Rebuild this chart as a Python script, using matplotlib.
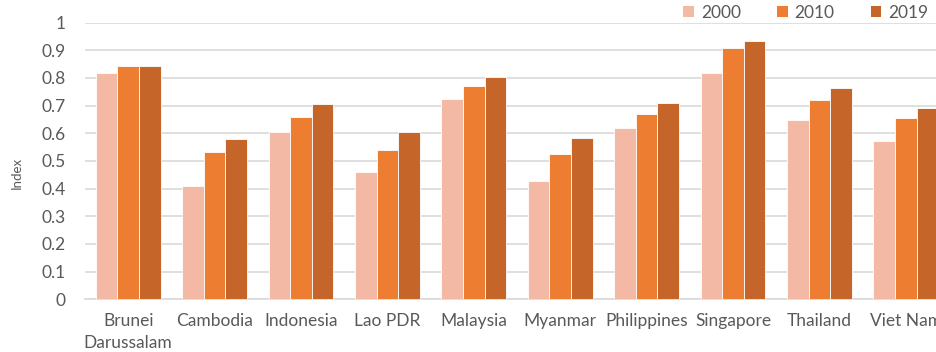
import matplotlib
matplotlib.use('Agg')
import matplotlib.pyplot as plt
import numpy as np
from matplotlib.patches import Patch

# Données : indice par pays et par année
pays = ['Brunei\nDarussalam', 'Cambodia', 'Indonesia', 'Lao PDR', 'Malaysia',
        'Myanmar', 'Philippines', 'Singapore', 'Thailand', 'Viet Nam']
annees = ['2000', '2010', '2019']
v2000 = [0.818, 0.411, 0.603, 0.461, 0.724, 0.426, 0.620, 0.818, 0.648, 0.573]
v2010 = [0.844, 0.531, 0.660, 0.541, 0.772, 0.525, 0.669, 0.908, 0.719, 0.654]
v2019 = [0.844, 0.579, 0.706, 0.603, 0.802, 0.583, 0.709, 0.932, 0.763, 0.691]

couleurs = ['#F4B9A5', '#ED7D31', '#C5652A']
gris = '#595959'

plt.rcParams['font.family'] = ['Lato', 'DejaVu Sans']

fig = plt.figure(figsize=(9.36, 3.52), dpi=100)
ax = fig.add_axes([85 / 936, 1 - 299.3 / 352, 864 / 936, 276.7 / 352])

x = np.arange(len(pays))
w = 0.25
for k, (vals, c) in enumerate(zip([v2000, v2010, v2019], couleurs)):
    ax.bar(x + (k - 1) * w, vals, width=w, color=c, edgecolor='white',
           linewidth=0.6, zorder=3)

ax.set_xlim(-0.5, len(pays) - 0.5)
ax.set_ylim(0, 1)
ax.set_yticks(np.arange(0, 1.01, 0.1))
ax.set_yticklabels(['0'] + ['%.1f' % v for v in np.arange(0.1, 0.95, 0.1)] + ['1'])
ax.set_xticks(x)
ax.set_xticklabels(pays, linespacing=1.45)

ax.grid(axis='y', color='#D9D9D9', linewidth=1.2, zorder=0)
for s in ['top', 'right', 'left']:
    ax.spines[s].set_visible(False)
ax.spines['bottom'].set_color('#D9D9D9')
ax.spines['bottom'].set_linewidth(1.2)
ax.tick_params(axis='both', length=0, labelsize=12.5, colors=gris)
ax.tick_params(axis='x', pad=10)
ax.tick_params(axis='y', pad=14)

fig.text(17 / 936, 1 - 173 / 352, 'Index', rotation=90, fontsize=9.5,
         color=gris, ha='center', va='center')

handles = [Patch(facecolor=c, edgecolor='none') for c in couleurs]
fig.legend(handles, annees, loc='center', bbox_to_anchor=(806 / 936, 1 - 13 / 352),
           ncol=3, frameon=False, fontsize=12.5, labelcolor=gris,
           handlelength=0.6, handleheight=0.6, handletextpad=0.4,
           columnspacing=2.1)

plt.savefig('out.png', dpi=100)
